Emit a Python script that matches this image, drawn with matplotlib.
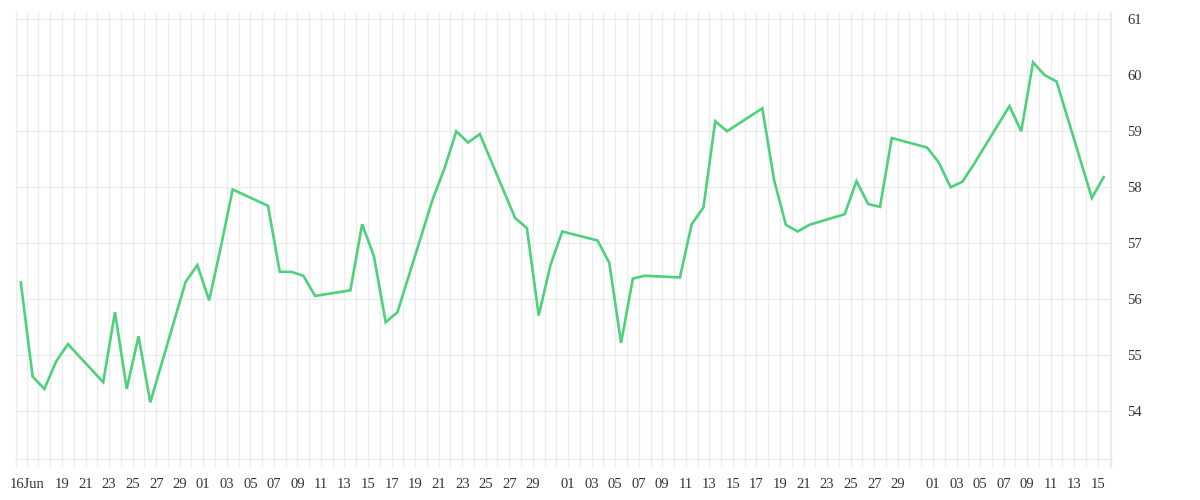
import matplotlib
matplotlib.use("Agg")
import matplotlib.pyplot as plt
import matplotlib.dates as mdates
import pandas as pd

# trading days and closing values
dates = [
    "2025-06-16", "2025-06-17", "2025-06-18", "2025-06-19", "2025-06-20",
    "2025-06-23", "2025-06-24", "2025-06-25", "2025-06-26", "2025-06-27",
    "2025-06-30", "2025-07-01", "2025-07-02", "2025-07-03", "2025-07-04",
    "2025-07-07", "2025-07-08", "2025-07-09", "2025-07-10", "2025-07-11",
    "2025-07-14", "2025-07-15", "2025-07-16", "2025-07-17", "2025-07-18",
    "2025-07-21", "2025-07-22", "2025-07-23", "2025-07-24", "2025-07-25",
    "2025-07-28", "2025-07-29", "2025-07-30", "2025-07-31", "2025-08-01",
    "2025-08-04", "2025-08-05", "2025-08-06", "2025-08-07", "2025-08-08",
    "2025-08-11", "2025-08-12", "2025-08-13", "2025-08-14", "2025-08-15",
    "2025-08-18", "2025-08-19", "2025-08-20", "2025-08-21", "2025-08-22",
    "2025-08-25", "2025-08-26", "2025-08-27", "2025-08-28", "2025-08-29",
    "2025-09-01", "2025-09-02", "2025-09-03", "2025-09-04", "2025-09-05",
    "2025-09-08", "2025-09-09", "2025-09-10", "2025-09-11", "2025-09-12",
    "2025-09-15", "2025-09-16",
]
values = [
    56.30, 54.62, 54.40, 54.89, 55.20,
    54.52, 55.77, 54.40, 55.34, 54.16,
    56.31, 56.61, 55.98, 56.94, 57.96,
    57.67, 56.49, 56.49, 56.42, 56.06,
    56.16, 57.34, 56.77, 55.59, 55.77,
    57.79, 58.34, 59.00, 58.80, 58.95,
    57.45, 57.27, 55.71, 56.61, 57.21,
    57.05, 56.65, 55.22, 56.37, 56.42,
    56.39, 57.34, 57.64, 59.18, 59.00,
    59.41, 58.13, 57.33, 57.21, 57.33,
    57.52, 58.11, 57.70, 57.65, 58.88,
    58.71, 58.44, 58.00, 58.10, 58.42,
    59.45, 59.00, 60.23, 60.00, 59.89,
    57.81, 58.18,
]
y_ticks = [54, 55, 56, 57, 58, 59, 60, 61]

line_color = "#4dd17c"
grid_color = "#ececec"
text_color = "#333333"

plt.rcParams['font.family'] = ['Liberation Serif', 'DejaVu Serif']

x = pd.to_datetime(dates)
xnum = mdates.date2num(x)

fig = plt.figure(figsize=(12, 5), dpi=100)
ax = fig.add_axes([16 / 1200, 41 / 500, (1110.7 - 16) / 1200, (459 - 12) / 500])

ax.plot(xnum, values, color=line_color, lw=1.9, solid_joinstyle='miter')

# day grid sits at noon of each calendar day
left = xnum[0] - 0.41
right = xnum[-1] + 0.60
days = pd.date_range(x[0], x[-1])
day_pos = mdates.date2num(days) + 0.5
labels = []
for i, d in enumerate(days):
    if i == 0:
        labels.append(d.strftime("%d%b"))
    elif d.day % 2 == 1 and d.day != 31 and i > 1:
        labels.append(d.strftime("%d"))
    else:
        labels.append("")

ticks = [left] + list(day_pos) + [right]
ax.set_xticks(ticks)
ax.set_xticklabels([""] + labels + [""])
ax.set_xlim(left, right)
ax.set_ylim(53.148, 61.13)

ax.yaxis.tick_right()
ax.set_yticks(y_ticks)
ax.grid(True, color=grid_color, lw=1)
ax.set_axisbelow(True)

ax.tick_params(axis='x', length=5.8, width=1, color=grid_color,
               labelsize=10.5, labelcolor=text_color, pad=8)
ax.tick_params(axis='y', length=0, pad=12, labelsize=10.5, labelcolor=text_color)

for side in ['left', 'right', 'bottom']:
    ax.spines[side].set_color(grid_color)
    ax.spines[side].set_linewidth(1)
ax.spines['top'].set_visible(False)

fig.savefig("out.png", dpi=100)
